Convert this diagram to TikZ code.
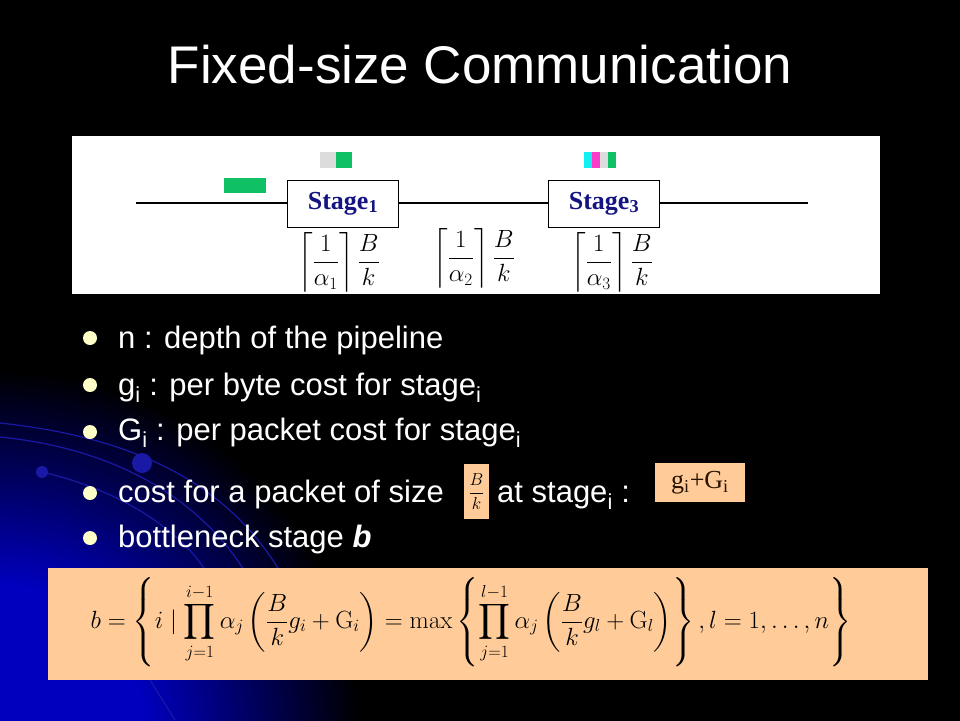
\documentclass[tikz,border=0pt]{standalone}
\usepackage[no-math]{fontspec}
\usepackage{amsmath}
\setmainfont{Liberation Sans}
\newfontfamily\stagefont{Liberation Serif}
\usetikzlibrary{positioning}
\definecolor{peach}{RGB}{255,204,153}
\definecolor{navy}{RGB}{20,20,130}
\definecolor{pgreen}{RGB}{16,192,100}
\definecolor{pgrey}{RGB}{220,220,220}
\definecolor{pcyan}{RGB}{20,240,240}
\definecolor{pmagenta}{RGB}{250,60,200}
\definecolor{cream}{RGB}{255,255,200}
\definecolor{deepblue}{RGB}{0,0,190}
\definecolor{arcblue}{RGB}{25,25,165}
\pgfdeclareradialshading{glow}{\pgfpoint{0bp}{0bp}}{color(0bp)=(deepblue); color(10bp)=(deepblue); color(25bp)=(black); color(50bp)=(black)}

\begin{document}
\begin{tikzpicture}[x=1pt, y=-1pt,
        stagebox/.style={draw=black, line width=0.8pt, fill=white,
                minimum width=111pt, minimum height=47pt, inner sep=0pt,
                font=\stagefont\bfseries\fontsize{26}{30}\selectfont, text=navy},
        wire/.style={line width=2pt},
        block/.style={minimum height=16pt, inner sep=0pt},
        ceilfrac/.style={inner sep=0pt, font=\fontsize{26}{30}\selectfont},
        dot/.style={circle, fill=cream, minimum size=14pt, inner sep=0pt},
        item/.style={text=white, font=\fontsize{31}{36}\selectfont,
                anchor=base west, inner sep=0pt},
        peachbox/.style={fill=peach, inner sep=0pt}
    ]
    \useasboundingbox (0,0) rectangle (960,720);
    \fill[black] (-1,-1) rectangle (961,721);
    \begin{scope}
        \clip (0,0) rectangle (960,720);
        \shade[shading=glow] (0,730) circle (360pt);
        \draw[arcblue, line width=1.2pt] (0,423) .. controls (160,440) and (240,500) .. (285,580);
        \draw[arcblue, line width=1.2pt] (0,437) .. controls (130,450) and (210,510) .. (250,580);
        \draw[arcblue, line width=1.2pt] (42,472) .. controls (120,490) and (180,530) .. (205,570);
        \draw[arcblue, line width=1.2pt] (150,680) -- (175,720);
        \fill[arcblue] (42,472) circle (6pt);
        \fill[arcblue] (142,463) circle (10pt);
    \end{scope}

    \node[text=white, font=\fontsize{53}{60}\selectfont] (title) at (480,65) {Fixed-size Communication};

    \fill[white] (72,136) rectangle (880,294);
    \coordinate (in) at (136,202.5);
    \coordinate (out) at (808,202.5);
    \node[stagebox] (stage1) at (343,203.5) {Stage\textsubscript{1}};
    \node[stagebox] (stage3) at (604,203.5) {Stage\textsubscript{3}};
    \draw[wire] (in) -- (in -| stage1.west);
    \draw[wire] (stage1.east |- in) -- (stage3.west |- in);
    \draw[wire] (stage3.east |- in) -- (out);

    \node[block, fill=pgreen, minimum width=42pt, minimum height=15pt] (packet) at (245,185.5) {};
    \node[block, fill=pgrey, minimum width=16pt] (s1a) at (328,160) {};
    \node[block, fill=pgreen, minimum width=16pt, right=0pt of s1a] (s1b) {};
    \foreach \c [count=\n] in {pcyan,pmagenta,pgrey,pgreen}
        \node[block, fill=\c, minimum width=8pt] (s3\n) at (580+8*\n,160) {};

    \begin{scope}
        \clip (72,136) rectangle (880,292);
        \node[ceilfrac] (f1) at (339,262) {$\left\lceil\dfrac{1}{\alpha_1}\right\rceil\dfrac{B}{k}$};
        \node[ceilfrac] (f2) at (474,258) {$\left\lceil\dfrac{1}{\alpha_2}\right\rceil\dfrac{B}{k}$};
        \node[ceilfrac] (f3) at (612,262) {$\left\lceil\dfrac{1}{\alpha_3}\right\rceil\dfrac{B}{k}$};
    \end{scope}

    \node[dot] (d1) at (90,338) {};
    \node[dot] (d2) at (90,385) {};
    \node[dot] (d3) at (90,432) {};
    \node[dot] (d4) at (90,493) {};
    \node[dot] (d5) at (90,538) {};
    \node[item] (t1) at (118,348) {n : depth of the pipeline};
    \node[item] (t2) at (118,395) {g\textsubscript{i} : per byte cost for stage\textsubscript{i}};
    \node[item] (t3) at (118,440) {G\textsubscript{i} : per packet cost for stage\textsubscript{i}};
    \node[item] (t4) at (118,502) {cost for a packet of size};
    \node[peachbox, minimum width=25pt, minimum height=55pt, font=\fontsize{19}{22}\selectfont]
        (size) at (476.5,491.5) {$\dfrac{B}{k}$};
    \node[item] (t4b) at (497,502) {at stage\textsubscript{i} :};
    \node[peachbox, minimum width=90pt, minimum height=39pt, text={rgb,255:red,40;green,20;blue,0},
        font=\stagefont\fontsize{26}{30}\selectfont] (cost) at (700,482.5) {g\textsubscript{i}+G\textsubscript{i}};
    \node[item] (t5) at (118,547) {bottleneck stage \textbf{\textit{b}}};

    \node[peachbox, minimum width=880pt, minimum height=112pt] (eqbox) at (488,623.5) {};
    \node[inner sep=0pt, font=\fontsize{26}{30}\selectfont] (eq) at (471,622)
        {$\displaystyle b=\left\{i\mid\prod_{j=1}^{i-1}\alpha_j\left(\frac{B}{k}g_i+\mathrm{G}_i\right)
        =\max\left\{\prod_{j=1}^{l-1}\alpha_j\left(\frac{B}{k}g_l+\mathrm{G}_l\right)\right\},l=1,\ldots,n\right\}$};
\end{tikzpicture}
\end{document}
